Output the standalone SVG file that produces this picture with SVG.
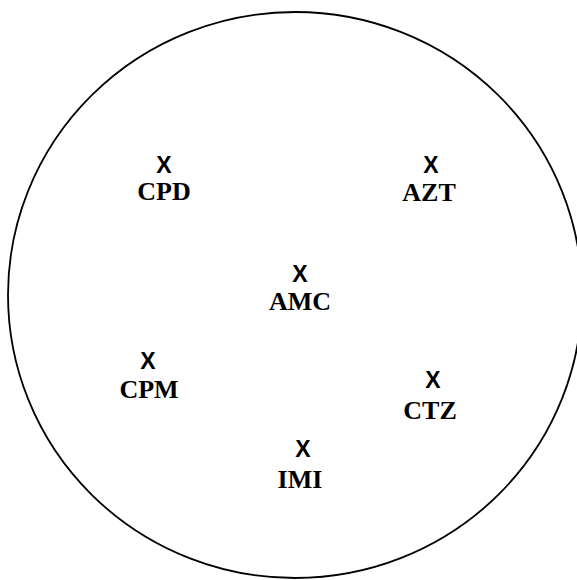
<svg xmlns="http://www.w3.org/2000/svg" width="577" height="580" viewBox="0 0 577 580">
<style>
.x{font-family:"Liberation Sans",Arial,sans-serif;font-weight:bold;font-size:23px;text-anchor:middle;fill:#000}
.l{font-family:"Liberation Serif","Times New Roman",serif;font-weight:bold;font-size:26px;text-anchor:middle;fill:#000}
</style>
<rect width="577" height="580" fill="#fff"/>
<ellipse id="plate" cx="295" cy="295" rx="287" ry="283" fill="none" stroke="#000" stroke-width="1.8"/>
<g id="CPD"><text class="x" x="164" y="173">X</text><text class="l" x="164" y="200">CPD</text></g>
<g id="AZT"><text class="x" x="431" y="173">X</text><text class="l" x="429" y="201">AZT</text></g>
<g id="AMC"><text class="x" x="300" y="282">X</text><text class="l" x="300" y="310">AMC</text></g>
<g id="CPM"><text class="x" x="148" y="369">X</text><text class="l" x="149" y="398">CPM</text></g>
<g id="CTZ"><text class="x" x="433" y="388">X</text><text class="l" x="430" y="419">CTZ</text></g>
<g id="IMI"><text class="x" x="303" y="457">X</text><text class="l" x="300" y="488">IMI</text></g>
<g id="connectors"/>
</svg>
